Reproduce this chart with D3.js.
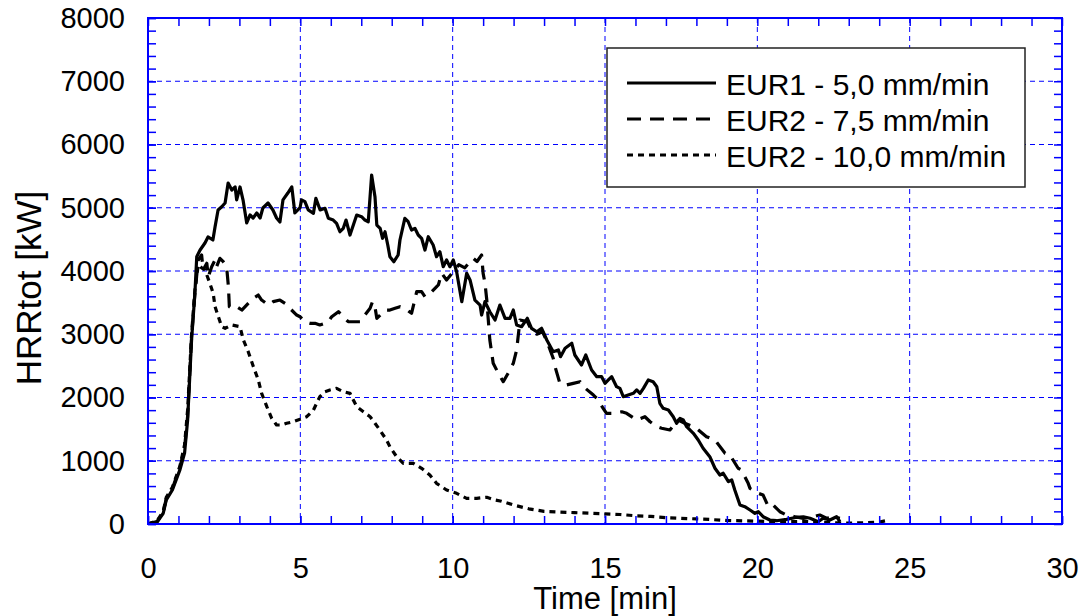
<!DOCTYPE html>
<html lang="en">
<head>
  <meta charset="UTF-8" />
  <title>HRRtot vs time</title>
  <style>
    html, body {
      margin: 0;
      padding: 0;
      background: #fff;
      font-family: "Liberation Sans", Arial, sans-serif;
    }
    svg { display: block; }
    .tick text { fill: #000; }
  </style>
</head>
<body>
  <svg width="1088" height="616"></svg>
  <script src="https://d3js.org/d3.v7.min.js"></script>
  <script>
    // series: [time min, HRR kW]
    const eur1 = [
      [0,0],[0.3,30],[0.5,170],[0.6,380],[0.8,540],[1.05,860],[1.2,1120],[1.3,1640],[1.43,2909],[1.54,3652],
      [1.6,4226],[1.71,4332],[1.87,4443],[1.97,4538],[2.13,4490],[2.2,4696],[2.3,4964],[2.42,5016],[2.53,5075],
      [2.63,5391],[2.75,5280],[2.86,5329],[2.91,5124],[3.02,5329],[3.12,5122],[3.24,4760],[3.35,4886],[3.45,4838],
      [3.57,4917],[3.68,4838],[3.77,4996],[3.94,5075],[4.1,4965],[4.22,4838],[4.33,4775],[4.43,5124],[4.59,5233],
      [4.72,5329],[4.82,4917],[4.99,5001],[5.04,5124],[5.15,5096],[5.26,4965],[5.43,4912],[5.51,5149],[5.65,4965],
      [5.81,4991],[5.92,4833],[6.08,4806],[6.19,4754],[6.3,4621],[6.41,4675],[6.5,4806],[6.63,4569],[6.74,4727],
      [6.85,4885],[7.01,4858],[7.12,4806],[7.23,4779],[7.34,5517],[7.45,5175],[7.51,4727],[7.62,4675],[7.7,4517],
      [7.78,4621],[7.87,4411],[7.94,4226],[8.07,4147],[8.21,4253],[8.27,4490],[8.43,4833],[8.54,4779],[8.65,4648],
      [8.76,4675],[8.87,4569],[8.98,4517],[9.09,4332],[9.2,4542],[9.36,4411],[9.47,4226],[9.58,4305],[9.69,4068],
      [9.8,4174],[9.91,4068],[10.02,4174],[10.13,3989],[10.3,3515],[10.46,3964],[10.57,3858],[10.73,3541],[10.9,3462],
      [10.95,3304],[11.06,3515],[11.22,3356],[11.39,3225],[11.55,3462],[11.72,3252],[11.88,3252],[11.99,3383],
      [12.1,3146],[12.26,3119],[12.45,3252],[12.59,3094],[12.76,3040],[12.92,3094],[13.09,2909],[13.3,2724],
      [13.47,2751],[13.54,2645],[13.69,2778],[13.91,2857],[14.01,2672],[14.12,2593],[14.23,2514],[14.37,2672],
      [14.56,2435],[14.73,2329],[14.89,2329],[15.0,2224],[15.11,2277],[15.22,2329],[15.38,2171],[15.49,2145],
      [15.6,2013],[15.76,2039],[15.93,2066],[16.04,2119],[16.15,2066],[16.26,2145],[16.42,2277],[16.58,2250],
      [16.7,2171],[16.8,1908],[16.91,1829],[17.08,1802],[17.24,1696],[17.35,1592],[17.46,1671],[17.57,1644],
      [17.68,1538],[17.9,1434],[18.06,1328],[18.22,1197],[18.44,1064],[18.61,881],[18.77,775],[18.88,802],
      [19.05,669],[19.16,696],[19.26,538],[19.43,300],[19.59,274],[19.76,221],[19.92,169],[20.03,194],[20.19,115],
      [20.41,63],[20.63,52],[20.96,74],[21.29,106],[21.51,115],[21.73,90],[22.0,36],[22.16,90],[22.38,63],
      [22.6,115],[22.71,36]
    ];

    const eur2_75 = [
      [0,0],[0.3,40],[0.5,190],[0.6,400],[0.8,560],[1.05,900],[1.2,1200],[1.3,1700],[1.43,2950],[1.54,3652],
      [1.65,4174],[1.76,4253],[1.81,4016],[1.93,4122],[1.98,3910],[2.09,4068],[2.2,4174],[2.25,4068],[2.36,4200],
      [2.47,4147],[2.58,4068],[2.64,3752],[2.67,3436],[2.75,3410],[2.91,3436],[3.08,3383],[3.29,3489],[3.46,3568],
      [3.62,3620],[3.73,3541],[3.95,3462],[4.11,3515],[4.33,3541],[4.5,3489],[4.6,3436],[4.88,3304],[4.99,3277],
      [5.15,3198],[5.32,3173],[5.48,3173],[5.64,3146],[5.81,3173],[5.92,3198],[6.03,3277],[6.25,3356],[6.41,3277],
      [6.57,3198],[6.79,3198],[6.96,3198],[7.12,3304],[7.29,3410],[7.37,3515],[7.45,3436],[7.51,3252],[7.62,3304],
      [7.78,3383],[7.94,3383],[8.11,3410],[8.27,3436],[8.43,3410],[8.65,3331],[8.82,3673],[8.98,3673],[9.09,3594],
      [9.26,3647],[9.42,3726],[9.53,3779],[9.64,3963],[9.8,3858],[10.02,3989],[10.2,4100],[10.4,4050],[10.57,4147],
      [10.68,4200],[10.8,4150],[10.95,4253],[11.0,3963],[11.06,3810],[11.12,3541],[11.22,2909],[11.33,2541],
      [11.5,2383],[11.66,2250],[11.82,2383],[11.99,2541],[12.1,2751],[12.21,3225],[12.45,3200],[12.6,3050],
      [12.76,3000],[12.95,3040],[13.1,2880],[13.3,2620],[13.36,2487],[13.52,2224],[13.74,2198],[13.96,2224],
      [14.18,2250],[14.29,2171],[14.62,2039],[14.73,1987],[14.94,1829],[15.05,1750],[15.27,1750],[15.55,1775],
      [15.71,1750],[16.04,1644],[16.31,1696],[16.48,1617],[16.7,1538],[16.86,1513],[17.13,1486],[17.3,1592],
      [17.4,1644],[17.62,1592],[17.9,1538],[18.0,1513],[18.33,1380],[18.61,1328],[18.94,1118],[19.1,1091],
      [19.37,881],[19.48,854],[19.7,643],[19.76,564],[20.03,485],[20.19,458],[20.36,274],[20.52,300],[20.74,194],
      [20.96,142],[21.23,115],[21.51,90],[21.83,115],[22.05,142],[22.27,90],[22.49,115],[22.71,90]
    ];

    const eur2_10 = [
      [0,0],[0.3,50],[0.5,200],[0.6,420],[0.8,580],[1.05,920],[1.2,1250],[1.3,1800],[1.43,3000],[1.54,3700],
      [1.65,4100],[1.76,4050],[1.87,4016],[2.03,3806],[2.14,3647],[2.2,3436],[2.31,3277],[2.42,3119],[2.53,3094],
      [2.75,3146],[3.02,3119],[3.13,2909],[3.29,2724],[3.46,2487],[3.62,2277],[3.73,2066],[3.9,1855],[4.06,1671],
      [4.22,1565],[4.39,1565],[4.55,1592],[4.77,1617],[4.99,1655],[5.21,1696],[5.43,1802],[5.64,2013],[5.81,2092],
      [5.97,2119],[6.19,2145],[6.41,2092],[6.63,2066],[6.85,1855],[7.07,1775],[7.29,1696],[7.45,1592],[7.61,1486],
      [7.83,1328],[7.94,1222],[8.16,1064],[8.38,960],[8.71,960],[8.98,881],[9.25,775],[9.47,643],[9.8,538],
      [10.13,485],[10.46,406],[10.79,406],[11.12,422],[11.39,379],[11.6,360],[12.0,300],[12.5,240],[13.0,200],
      [13.5,190],[14.0,180],[14.5,170],[15.0,160],[15.5,150],[16.0,130],[16.5,120],[17.0,100],[17.5,90],[18.0,80],
      [18.5,70],[19.0,55],[19.5,50],[20.0,45],[20.5,40],[21.0,35],[21.5,40],[22.0,30],[22.5,20],[23.0,15],
      [23.5,20],[24.0,30],[24.3,60]
    ];

    const seriesNames = ["EUR1 - 5,0 mm/min", "EUR2 - 7,5 mm/min", "EUR2 - 10,0 mm/min"];
    const seriesData = [eur1, eur2_75, eur2_10];
    const seriesDash = [null, "14,9", "6,5"];

    const xTicks = [0, 5, 10, 15, 20, 25, 30];
    const yTicks = [0, 1000, 2000, 3000, 4000, 5000, 6000, 7000, 8000];

    const svg = d3.select("svg");
    const blue = "#0000ff";
    const plotLeft = 148, plotRight = 1062, plotTop = 18, plotBottom = 524;

    const x = d3.scaleLinear().domain([0, 30]).range([plotLeft, plotRight]);
    const y = d3.scaleLinear().domain([0, 8000]).range([plotBottom, plotTop]);

    svg.append("defs").append("clipPath").attr("id", "plot")
      .append("rect")
      .attr("x", plotLeft).attr("y", plotTop)
      .attr("width", plotRight - plotLeft).attr("height", plotBottom - plotTop);

    // grid
    const grid = svg.append("g")
      .attr("stroke", blue)
      .attr("stroke-width", 1)
      .attr("stroke-dasharray", "5,4");
    grid.selectAll(".gx").data(xTicks.slice(1, -1)).join("line")
      .attr("class", "gx")
      .attr("x1", d => x(d)).attr("x2", d => x(d))
      .attr("y1", plotTop).attr("y2", plotBottom);
    grid.selectAll(".gy").data(yTicks.slice(1, -1)).join("line")
      .attr("class", "gy")
      .attr("y1", d => y(d)).attr("y2", d => y(d))
      .attr("x1", plotLeft).attr("x2", plotRight);

    // curves
    const line = d3.line().x(d => x(d[0])).y(d => y(d[1]));
    svg.append("g").attr("clip-path", "url(#plot)")
      .selectAll("path")
      .data(seriesData)
      .join("path")
      .attr("d", line)
      .attr("fill", "none")
      .attr("stroke", "#000")
      .attr("stroke-width", 3.2)
      .attr("stroke-linejoin", "round")
      .attr("stroke-dasharray", (d, i) => seriesDash[i]);

    // axes: inward ticks on all four sides, minor ticks every 1 min / 200 kW
    const minorX = d3.range(0, 31, 1);
    const minorY = d3.range(0, 8001, 200);

    function styleAxis(g) {
      g.select(".domain").remove();
      g.selectAll(".tick line").attr("stroke", blue).attr("stroke-width", 1.5);
      g.selectAll("text")
        .attr("font-family", "'Liberation Sans', Arial, sans-serif")
        .attr("font-size", "29px");
    }

    svg.append("g")
      .attr("transform", `translate(0,${plotBottom})`)
      .call(d3.axisBottom(x).tickValues(minorX).tickSize(-8).tickFormat(""))
      .call(styleAxis);
    svg.append("g")
      .attr("transform", `translate(0,${plotTop})`)
      .call(d3.axisTop(x).tickValues(minorX).tickSize(-8).tickFormat(""))
      .call(styleAxis);
    svg.append("g")
      .attr("transform", `translate(${plotLeft},0)`)
      .call(d3.axisLeft(y).tickValues(minorY).tickSize(-8).tickFormat(""))
      .call(styleAxis);
    svg.append("g")
      .attr("transform", `translate(${plotRight},0)`)
      .call(d3.axisRight(y).tickValues(minorY).tickSize(-8).tickFormat(""))
      .call(styleAxis);

    // labels
    svg.append("g")
      .attr("transform", `translate(0,${plotBottom})`)
      .call(d3.axisBottom(x).tickValues(xTicks).tickSize(-8).tickPadding(33).tickFormat(d3.format("d")))
      .call(styleAxis);
    svg.append("g")
      .attr("transform", `translate(${plotLeft},0)`)
      .call(d3.axisLeft(y).tickValues(yTicks).tickSize(-8).tickPadding(23).tickFormat(d3.format("d")))
      .call(styleAxis);

    // frame
    svg.append("rect")
      .attr("x", plotLeft).attr("y", plotTop)
      .attr("width", plotRight - plotLeft).attr("height", plotBottom - plotTop)
      .attr("fill", "none")
      .attr("stroke", blue)
      .attr("stroke-width", 2);

    // axis titles
    svg.append("text")
      .attr("x", (plotLeft + plotRight) / 2)
      .attr("y", 609)
      .attr("text-anchor", "middle")
      .attr("font-size", "31px")
      .text("Time [min]");
    svg.append("text")
      .attr("transform", "translate(41,288) rotate(-90)")
      .attr("text-anchor", "middle")
      .attr("font-size", "35px")
      .text("HRRtot [kW]");

    // legend
    const legend = svg.append("g");
    legend.append("rect")
      .attr("x", 607).attr("y", 48)
      .attr("width", 418).attr("height", 139)
      .attr("fill", "#fff")
      .attr("stroke", "#222")
      .attr("stroke-width", 1.5);
    const item = legend.selectAll(".item")
      .data(seriesNames)
      .join("g")
      .attr("class", "item")
      .attr("transform", (d, i) => `translate(0,${83 + i * 36})`);
    item.append("line")
      .attr("x1", 627).attr("x2", 716)
      .attr("stroke", "#000")
      .attr("stroke-width", 3)
      .attr("stroke-dasharray", (d, i) => seriesDash[i]);
    item.append("text")
      .attr("x", 726)
      .attr("y", 12)
      .attr("font-size", "30px")
      .text(d => d);
  </script>
</body>
</html>
